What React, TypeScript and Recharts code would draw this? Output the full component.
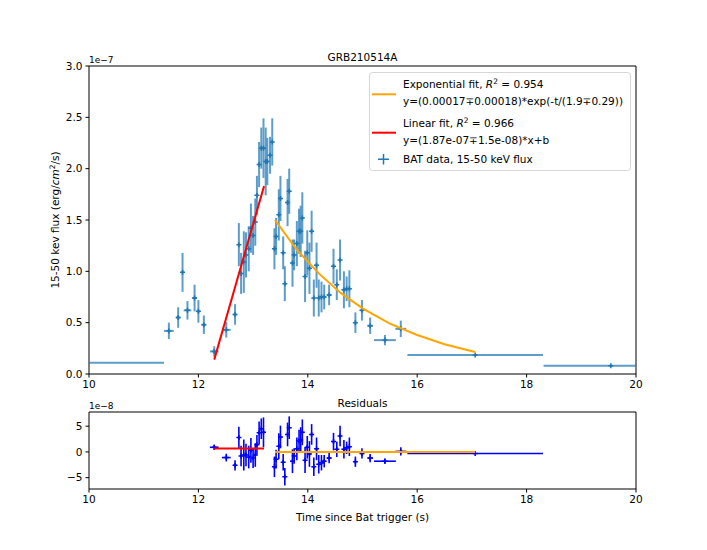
import React from 'react';
import { ComposedChart, Scatter, XAxis, YAxis, ErrorBar, ReferenceArea } from 'recharts';

// ---- main panel data (flux in units of 1e-7 erg/cm^2/s) ----
const binTime = [
  9.9, 11.46, 11.63, 11.71, 11.8, 11.93, 12.0, 12.1, 12.29, 12.51,
  12.67, 12.74, 12.78, 12.83, 12.87, 12.92, 12.96, 13.0, 13.04, 13.07,
  13.11, 13.15, 13.19, 13.23, 13.26, 13.31, 13.35, 13.39, 13.42, 13.47,
  13.5, 13.55, 13.58, 13.63, 13.66, 13.72, 13.75, 13.8, 13.84, 13.87,
  13.9, 13.95, 13.99, 14.03, 14.07, 14.11, 14.16, 14.2, 14.25, 14.3,
  14.39, 14.47, 14.53, 14.59, 14.66, 14.71, 14.76, 14.87, 14.99, 15.14,
  15.41, 15.7, 17.06, 19.54,
];
const binTimeErr = [
  1.47, 0.09, 0.04, 0.02, 0.07, 0.04, 0.03, 0.04, 0.08, 0.08,
  0.03, 0.02, 0.02, 0.02, 0.02, 0.02, 0.02, 0.02, 0.02, 0.02,
  0.02, 0.02, 0.02, 0.02, 0.02, 0.02, 0.02, 0.02, 0.02, 0.02,
  0.02, 0.02, 0.02, 0.02, 0.02, 0.02, 0.02, 0.02, 0.02, 0.02,
  0.02, 0.02, 0.02, 0.02, 0.02, 0.02, 0.02, 0.02, 0.03, 0.03,
  0.04, 0.02, 0.02, 0.02, 0.03, 0.02, 0.02, 0.02, 0.03, 0.05,
  0.2, 0.1, 1.24, 1.23,
];
const flux = [
  0.11, 0.42, 0.55, 0.99, 0.62, 0.74, 0.61, 0.48, 0.22, 0.43,
  0.58, 1.26, 0.98, 1.09, 1.16, 1.22, 1.42, 1.35, 1.48, 1.74,
  2.04, 2.2, 2.2, 2.07, 2.07, 2.13, 2.26, 1.22, 1.34, 1.55,
  1.71, 1.18, 0.88, 1.67, 1.78, 1.08, 1.16, 1.27, 1.39, 1.39,
  1.52, 0.95, 1.18, 1.03, 1.39, 0.74, 1.06, 0.74, 0.75, 0.75,
  0.77, 1.05, 0.87, 1.11, 0.82, 0.83, 0.83, 0.5, 0.62, 0.47,
  0.33, 0.44, 0.185, 0.081,
];
const fluxErr = [
  0.005, 0.08, 0.1, 0.19, 0.09, 0.13, 0.11, 0.09, 0.05, 0.075,
  0.1, 0.21, 0.2, 0.3, 0.22, 0.22, 0.24, 0.19, 0.23, 0.19,
  0.22, 0.2, 0.29, 0.33, 0.23, 0.18, 0.23, 0.2, 0.18, 0.25,
  0.22, 0.16, 0.17, 0.23, 0.22, 0.23, 0.15, 0.22, 0.22, 0.25,
  0.25, 0.25, 0.22, 0.25, 0.2, 0.18, 0.22, 0.18, 0.15, 0.12,
  0.1, 0.17, 0.15, 0.2, 0.18, 0.12, 0.18, 0.1, 0.1, 0.08,
  0.05, 0.08, 0.01, 0.01,
];

// fitted curves as seen in the figure
const linFitTime = [12.29, 13.2];
const linFitFlux = [0.14, 1.83];
const expFitTime = [13.4, 13.8, 14.2, 14.6, 15.0, 15.5, 16.0, 16.5, 17.06];
const expFitFlux = [1.5, 1.21, 0.98, 0.79, 0.64, 0.49, 0.38, 0.29, 0.215];

// ---- residual panel data (units of 1e-8) ----
const resTime = [
  12.29, 12.51, 12.67, 12.74, 12.78, 12.83, 12.87, 12.92, 12.96, 13.0,
  13.04, 13.07, 13.11, 13.15, 13.19, 13.39, 13.42, 13.47, 13.5, 13.55,
  13.58, 13.63, 13.66, 13.72, 13.75, 13.8, 13.84, 13.87, 13.9, 13.95,
  13.99, 14.03, 14.07, 14.11, 14.16, 14.2, 14.25, 14.3, 14.39, 14.47,
  14.53, 14.59, 14.66, 14.71, 14.76, 14.87, 14.99, 15.14, 15.41, 15.7,
  17.06,
];
const resTimeErr = [
  0.08, 0.08, 0.03, 0.02, 0.02, 0.02, 0.02, 0.02, 0.02, 0.02,
  0.02, 0.02, 0.02, 0.02, 0.02, 0.02, 0.02, 0.02, 0.02, 0.02,
  0.02, 0.02, 0.02, 0.02, 0.02, 0.02, 0.02, 0.02, 0.02, 0.02,
  0.02, 0.02, 0.02, 0.02, 0.02, 0.02, 0.03, 0.03, 0.04, 0.02,
  0.02, 0.02, 0.03, 0.02, 0.02, 0.02, 0.03, 0.05, 0.2, 0.1,
  1.24,
];
const residual = [
  0.9, -1.1, -2.6, 2.8, -0.8, -0.6, -0.6, -1.0, 0.3, -1.2,
  -0.6, 1.4, 3.7, 4.5, 3.8, -2.9, -1.4, 1.1, 2.9, -2.0,
  -4.8, 3.4, 4.7, -1.8, -0.8, 0.6, 2.1, 2.3, 3.8, -1.6,
  0.9, -0.4, 3.4, -2.9, 0.6, -2.4, -2.1, -1.8, -1.2, 2.0,
  0.5, 3.1, 0.5, 0.8, 1.0, -1.9, -0.3, -1.2, -1.8, 0.1,
  -0.3,
];
const residualErr = [
  0.5, 0.75, 1.0, 2.1, 2.0, 3.0, 2.2, 2.2, 2.4, 1.9,
  2.3, 1.9, 2.2, 2.0, 2.9, 2.0, 1.8, 2.5, 2.2, 1.6,
  1.7, 2.3, 2.2, 2.3, 1.5, 2.2, 2.2, 2.5, 2.5, 2.5,
  2.2, 2.5, 2.0, 1.8, 2.2, 1.8, 1.5, 1.2, 1.0, 1.7,
  1.5, 2.0, 1.8, 1.2, 1.8, 1.0, 1.0, 0.8, 0.5, 0.8,
  0.1,
];
const resLinTime = [12.29, 13.2];
const resLinVal = [0.65, 0.65];
const resExpTime = [13.4, 17.06];
const resExpVal = [0, 0];

const timeTicks = [10, 12, 14, 16, 18, 20];
const fluxTicks = [0, 0.5, 1, 1.5, 2, 2.5, 3];
const resTicks = [-5, 0, 5];

const FONT = 'DejaVu Sans';
const FS = 10.5;
const BLUE = '#1f77b4';
const RES_BLUE = '#0000ff';
const ORANGE = '#ffa500';
const RED = '#ff0000';

const mainData = binTime.map((x, i) => ({ x, y: flux[i], ex: binTimeErr[i], ey: fluxErr[i] }));
const resData = resTime.map((x, i) => ({ x, y: residual[i], ex: resTimeErr[i], ey: residualErr[i] }));
const linData = linFitTime.map((x, i) => ({ x, y: linFitFlux[i] }));
const expData = expFitTime.map((x, i) => ({ x, y: expFitFlux[i] }));
const resLinData = resLinTime.map((x, i) => ({ x, y: resLinVal[i] }));
const resExpData = resExpTime.map((x, i) => ({ x, y: resExpVal[i] }));

const plusShape = (color: string, s: number) => (props: any) => {
  const { cx, cy } = props;
  if (cx == null || cy == null) return <g />;
  return (
    <path d={`M${cx - s},${cy}H${cx + s}M${cx},${cy - s}V${cy + s}`} stroke={color} strokeWidth={1.5} fill="none" />
  );
};
const noShape = () => <g />;

const tickStyle = { fontSize: FS, fill: '#000', fontFamily: FONT };
const fmtMinus = (v: number) => (v < 0 ? '\u2212' + Math.abs(v) : String(v));

const clipCss = `
.main-chart .recharts-errorBars, .main-chart .recharts-scatter, .main-chart .recharts-scatter-symbol { clip-path: url(#clipMainPlot); }
.res-chart .recharts-errorBars, .res-chart .recharts-scatter, .res-chart .recharts-scatter-symbol { clip-path: url(#clipResPlot); }
`;

export default function App() {
  return (
    <div style={{ position: 'absolute', left: 0, top: 0, width: 707, height: 550, background: '#fff', overflow: 'hidden' }}>
      <style>{clipCss}</style>
      <svg width={0} height={0} style={{ position: 'absolute' }}>
        <defs>
          <clipPath id="clipMainPlot" clipPathUnits="userSpaceOnUse">
            <rect x={89} y={66} width={547} height={308} />
          </clipPath>
          <clipPath id="clipResPlot" clipPathUnits="userSpaceOnUse">
            <rect x={89} y={17} width={547} height={77} />
          </clipPath>
        </defs>
      </svg>
      <div className="main-chart" style={{ position: 'absolute', left: 0, top: 0 }}>
        <ComposedChart width={707} height={400} margin={{ top: 66, right: 71, bottom: 0, left: 0 }}>
          <XAxis
            type="number"
            dataKey="x"
            domain={[10, 20]}
            ticks={timeTicks}
            allowDataOverflow
            height={26}
            tick={tickStyle}
            tickSize={3.5}
            tickMargin={3}
            tickLine={{ stroke: '#000' }}
            axisLine={false}
          />
          <YAxis
            type="number"
            dataKey="y"
            domain={[0, 3]}
            ticks={fluxTicks}
            allowDataOverflow
            width={89}
            tick={tickStyle}
            tickSize={3.5}
            tickMargin={3}
            tickLine={{ stroke: '#000' }}
            axisLine={false}
            tickFormatter={(v: number) => v.toFixed(1)}
          />
          <Scatter data={mainData} shape={plusShape(BLUE, 2.5)} isAnimationActive={false}>
            <ErrorBar dataKey="ex" direction="x" width={0} stroke={BLUE} strokeWidth={2} strokeOpacity={0.72} />
            <ErrorBar dataKey="ey" direction="y" width={0} stroke={BLUE} strokeWidth={2} strokeOpacity={0.72} />
          </Scatter>
          <Scatter data={expData} shape={noShape} line={{ stroke: ORANGE, strokeWidth: 2 }} lineType="joint" isAnimationActive={false} />
          <Scatter data={linData} shape={noShape} line={{ stroke: RED, strokeWidth: 2 }} lineType="joint" isAnimationActive={false} />
          <ReferenceArea x1={10} x2={20} y1={0} y2={3} fill="none" stroke="#000" strokeWidth={1} />
        </ComposedChart>
      </div>
      <div className="res-chart" style={{ position: 'absolute', left: 0, top: 395 }}>
        <ComposedChart width={707} height={155} margin={{ top: 17, right: 71, bottom: 35, left: 0 }}>
          <XAxis
            type="number"
            dataKey="x"
            domain={[10, 20]}
            ticks={timeTicks}
            allowDataOverflow
            height={26}
            tick={tickStyle}
            tickSize={3.5}
            tickMargin={3}
            tickLine={{ stroke: '#000' }}
            axisLine={false}
          />
          <YAxis
            type="number"
            dataKey="y"
            domain={[-7.2, 7.75]}
            ticks={resTicks}
            allowDataOverflow
            width={89}
            tick={tickStyle}
            tickSize={3.5}
            tickMargin={3}
            tickLine={{ stroke: '#000' }}
            axisLine={false}
            tickFormatter={fmtMinus}
          />
          <Scatter data={resData} shape={plusShape(RES_BLUE, 2.5)} isAnimationActive={false}>
            <ErrorBar dataKey="ex" direction="x" width={0} stroke={RES_BLUE} strokeWidth={1.6} />
            <ErrorBar dataKey="ey" direction="y" width={0} stroke={RES_BLUE} strokeWidth={1.6} />
          </Scatter>
          <Scatter data={resLinData} shape={noShape} line={{ stroke: RED, strokeWidth: 2 }} lineType="joint" isAnimationActive={false} />
          <Scatter data={resExpData} shape={noShape} line={{ stroke: ORANGE, strokeWidth: 2 }} lineType="joint" isAnimationActive={false} />
          <ReferenceArea x1={10} x2={20} y1={-7.2} y2={7.75} fill="none" stroke="#000" strokeWidth={1} />
        </ComposedChart>
      </div>
      <svg width={707} height={550} style={{ position: 'absolute', left: 0, top: 0, pointerEvents: 'none' }} fontFamily={FONT} fontSize={FS}>
        <text x={362.5} y={61} textAnchor="middle">GRB210514A</text>
        <text x={362.5} y={407} textAnchor="middle">Residuals</text>
        <text x={362.5} y={521} textAnchor="middle">Time since Bat trigger (s)</text>
        <text x={89} y={63} fontSize={9}>1e{'\u2212'}7</text>
        <text x={89} y={409} fontSize={9}>1e{'\u2212'}8</text>
        <text transform="translate(59,220) rotate(-90)" textAnchor="middle">
          15-50 kev flux (erg/<tspan fontStyle="italic">cm</tspan>
          <tspan dy={-4} fontSize={7.5}>2</tspan>
          <tspan dy={4}>/s)</tspan>
        </text>
        {/* legend */}
        <rect x={369.5} y={72.5} width={261} height={98} rx={3} fill="#fff" fillOpacity={0.8} stroke="#d6d6d6" strokeWidth={1} />
        <line x1={372} x2={396} y1={94.3} y2={94.3} stroke={ORANGE} strokeWidth={2} />
        <text x={403} y={88}>
          Exponential fit, <tspan fontStyle="italic">R</tspan>
          <tspan dy={-4} fontSize={7.5}>2</tspan>
          <tspan dy={4}> = 0.954</tspan>
        </text>
        <text x={403} y={105}>y=(0.00017{'\u2213'}0.00018)*exp(-t/(1.9{'\u2213'}0.29))</text>
        <line x1={372} x2={396} y1={132.7} y2={132.7} stroke={RED} strokeWidth={2} />
        <text x={403} y={127}>
          Linear fit, <tspan fontStyle="italic">R</tspan>
          <tspan dy={-4} fontSize={7.5}>2</tspan>
          <tspan dy={4}> = 0.966</tspan>
        </text>
        <text x={403} y={144}>y=(1.87e-07{'\u2213'}1.5e-08)*x+b</text>
        <path d="M378,159.3H389M383.5,154V164.6" stroke={BLUE} strokeWidth={1.5} />
        <text x={403} y={163}>BAT data, 15-50 keV flux</text>
      </svg>
    </div>
  );
}
